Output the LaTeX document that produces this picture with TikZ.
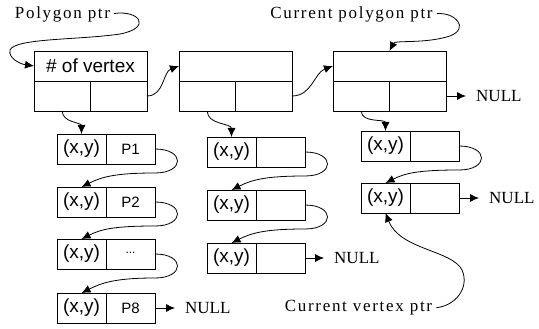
\documentclass[tikz,border=0pt]{standalone}
\usepackage{fontspec}
\setmainfont{Liberation Serif}
\newfontfamily\cellfont{Liberation Sans}
\newfontfamily\ptrfont[LetterSpace=10]{Liberation Serif}
\usetikzlibrary{positioning,arrows.meta}

\tikzset{
  cell/.style={draw, line width=0.9pt, inner sep=0pt, outer sep=0pt,
    minimum height=30pt, font=\cellfont\fontsize{19}{19}\selectfont},
  headcell/.style={cell, minimum width=113pt},
  halfcell/.style={cell, minimum width=56.5pt},
  xycell/.style={cell, minimum width=49pt},
  nextcell/.style={cell, minimum width=49pt,
    font=\cellfont\fontsize{15}{15}\selectfont},
  link/.style={line width=0.8pt, -{Latex[length=9pt,width=8pt]}},
  ptrlabel/.style={font=\ptrfont\fontsize{17}{17}\selectfont, inner sep=0pt},
  nulllabel/.style={font=\fontsize{17}{17}\selectfont, inner sep=0pt},
}

\begin{document}
\begin{tikzpicture}[x=1pt,y=-1pt]
      \useasboundingbox (0,0) rectangle (539,329);

      % polygon list
      \node[headcell,anchor=north west] (polyA) at (34,51) {\# of vertex};
      \node[halfcell,anchor=north west] (polyAl) at (polyA.south west) {};
      \node[halfcell,right=0pt of polyAl] (polyAr) {};

      \node[headcell,anchor=north west] (polyB) at (179,51) {};
      \node[halfcell,anchor=north west] (polyBl) at (polyB.south west) {};
      \node[halfcell,right=0pt of polyBl] (polyBr) {};

      \node[headcell,anchor=north west] (polyC) at (333,51) {};
      \node[halfcell,anchor=north west] (polyCl) at (polyC.south west) {};
      \node[halfcell,right=0pt of polyCl] (polyCr) {};
      \node[nulllabel,right=30pt of polyCr] (nullC) {NULL};

      % vertex lists
      \node[xycell,anchor=north west] (xyA1) at (57,134) {(x,y)};
      \node[nextcell,right=0pt of xyA1] (nxA1) {P1};
      \node[xycell,anchor=north west] (xyA2) at (57,187) {(x,y)};
      \node[nextcell,right=0pt of xyA2] (nxA2) {P2};
      \node[xycell,anchor=north west] (xyA3) at (57,239) {(x,y)};
      \node[nextcell,right=0pt of xyA3] (nxA3) {\raisebox{3pt}{\fontsize{12}{12}\selectfont ...}};
      \node[xycell,anchor=north west] (xyA4) at (57,293) {(x,y)};
      \node[nextcell,right=0pt of xyA4] (nxA4) {P8};
      \node[nulllabel,right=30pt of nxA4] (nullA) {NULL};

      \node[xycell,anchor=north west] (xyB1) at (207,137) {(x,y)};
      \node[nextcell,right=0pt of xyB1] (nxB1) {};
      \node[xycell,anchor=north west] (xyB2) at (207,190) {(x,y)};
      \node[nextcell,right=0pt of xyB2] (nxB2) {};
      \node[xycell,anchor=north west] (xyB3) at (207,243) {(x,y)};
      \node[nextcell,right=0pt of xyB3] (nxB3) {};
      \node[nulllabel,right=29pt of nxB3] (nullB) {NULL};

      \node[xycell,anchor=north west] (xyC1) at (361,131) {(x,y)};
      \node[nextcell,right=0pt of xyC1] (nxC1) {};
      \node[xycell,anchor=north west] (xyC2) at (361,183) {(x,y)};
      \node[nextcell,right=0pt of xyC2] (nxC2) {};
      \node[nulllabel,right=30pt of nxC2] (nullD) {NULL};

      % pointer labels
      \node[ptrlabel] (polyptr) at (62.5,14) {Polygon ptr};
      \node[ptrlabel] (curpoly) at (351.5,14) {Current polygon ptr};
      \node[ptrlabel] (curvtx) at (358.5,308) {Current vertex ptr};

      % links between polygons
      \draw[link] (polyAr.east) to[out=0,in=200] (polyB.west);
      \draw[link] (polyBr.east) to[out=0,in=200] (polyC.west);
      \draw[link,shorten >=10pt] (polyCr.east) -- (nullC.west);

      % polygon -> first vertex
      \draw[link] (polyAl.south) to[out=-90,in=90] (xyA1.north);
      \draw[link] (polyBl.south) to[out=-90,in=90] (xyB1.north);
      \draw[link] (polyCl.south) to[out=-90,in=90] (xyC1.north);

      % vertex -> next vertex
      \draw[link] (nxA1.east) .. controls +(30,0) and +(30,0) .. ++(0,24)
            .. controls +(-40,0) and +(20,-10) .. (xyA2.north);
      \draw[link] (nxA2.east) .. controls +(30,0) and +(30,0) .. ++(0,24)
            .. controls +(-40,0) and +(20,-10) .. (xyA3.north);
      \draw[link] (nxA3.east) .. controls +(30,0) and +(30,0) .. ++(0,24)
            .. controls +(-40,0) and +(20,-10) .. (xyA4.north);
      \draw[link,shorten >=10pt] (nxA4.east) -- (nullA.west);

      \draw[link] (nxB1.east) .. controls +(30,0) and +(30,0) .. ++(0,24)
            .. controls +(-40,0) and +(20,-10) .. (xyB2.north);
      \draw[link] (nxB2.east) .. controls +(30,0) and +(30,0) .. ++(0,24)
            .. controls +(-40,0) and +(20,-10) .. (xyB3.north);
      \draw[link,shorten >=10pt] (nxB3.east) -- (nullB.west);

      \draw[link] (nxC1.east) .. controls +(30,0) and +(30,0) .. ++(0,24)
            .. controls +(-40,0) and +(20,-10) .. (xyC2.north);
      \draw[link,shorten >=10pt] (nxC2.east) -- (nullD.west);

      % pointers
      \draw[link,shorten <=4pt] (polyptr.east)
            .. controls (140,10) and (152,28) .. (120,34)
            .. controls (80,40) and (15,38) .. (10,50)
            .. controls (8,58) and (20,64) .. (polyA.west);
      \draw[link,shorten <=4pt] (curpoly.east)
            .. controls (455,12) and (470,28) .. (450,36)
            .. controls (425,44) and (395,40) .. (polyC.north);
      \draw[link,shorten <=4pt] (curvtx.east)
            .. controls (455,306) and (470,288) .. (462,270)
            .. controls (452,250) and (400,250) .. (xyC2.south);
\end{tikzpicture}
\end{document}
